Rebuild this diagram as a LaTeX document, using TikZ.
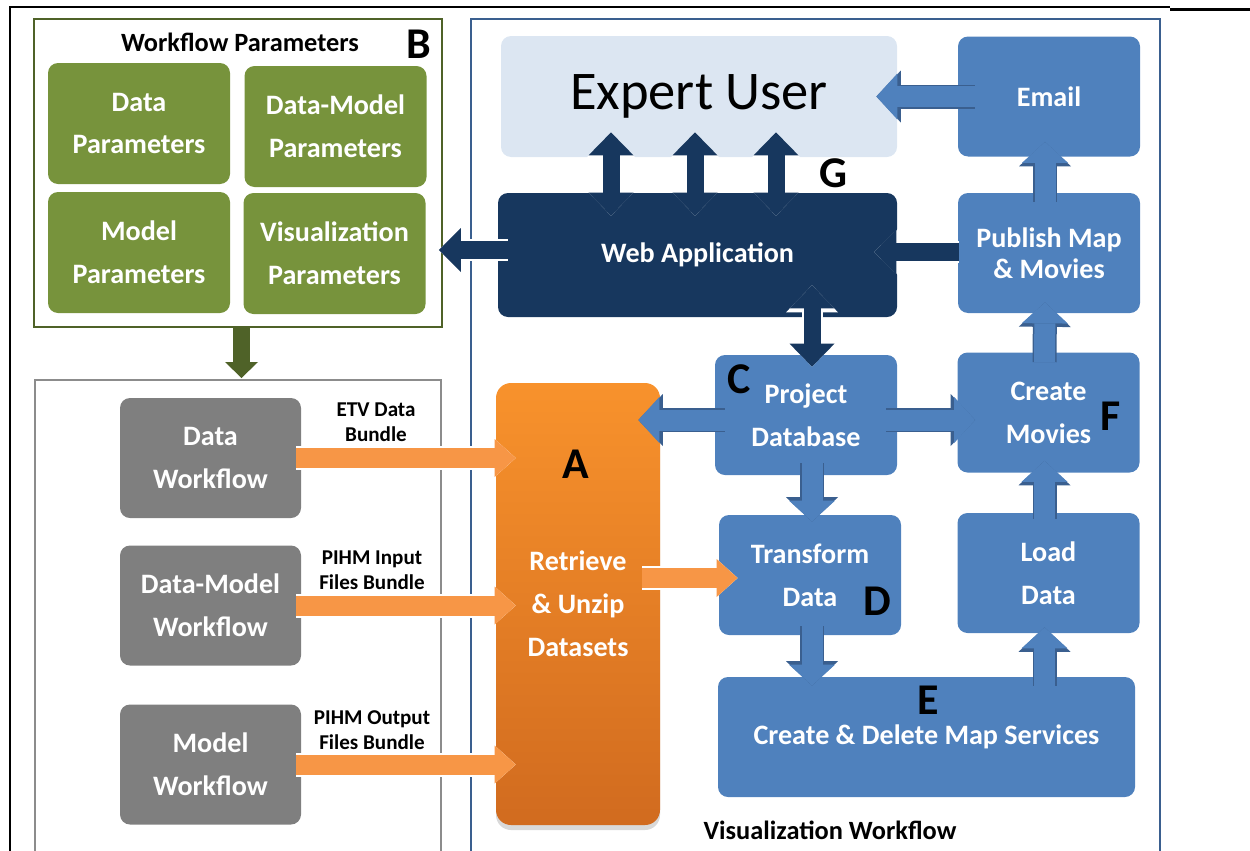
\documentclass[tikz,border=0pt]{standalone}
\usepackage{fontspec}
\setmainfont{Carlito}
\usepackage{tikz}
\usetikzlibrary{arrows.meta, calc, shadows}

\definecolor{parfill}{HTML}{77933C}
\definecolor{parline}{HTML}{4F6228}
\definecolor{wffill}{HTML}{7F7F7F}
\definecolor{vizfill}{HTML}{4F81BD}
\definecolor{vizline}{HTML}{3A5F8F}
\definecolor{webfill}{HTML}{17375E}
\definecolor{userfill}{HTML}{DCE6F2}
\definecolor{bndfill}{HTML}{F79646}
\definecolor{retrtop}{HTML}{F8922C}
\definecolor{retrbot}{HTML}{D16B1F}

\begin{document}
\begin{tikzpicture}[x=1cm, y=-1cm,
    box/.style={rounded corners=0.2cm, text=white, align=center, inner sep=0pt,
      font=\fontsize{16}{24.4}\selectfont\bfseries},
    parbox/.style={box, fill=parfill, minimum width=3.64cm, minimum height=2.42cm},
    wfbox/.style={box, fill=wffill, minimum width=3.62cm, minimum height=2.4cm},
    vizbox/.style={box, fill=vizfill, minimum width=3.64cm, minimum height=2.4cm},
    tag/.style={font=\fontsize{25}{25}\selectfont\bfseries},
    bundle/.style={align=center, font=\fontsize{12}{14.2}\selectfont\bfseries},
    vizarrow/.style={line width=0.42cm, vizfill,
      -{Triangle[length=0.42cm, width=0.92cm, line width=0pt]},
      preaction={draw, line width=0.48cm, vizline,
        -{Triangle[length=0.49cm, width=1.04cm, line width=0pt]}}},
    webarrow/.style={line width=0.36cm, webfill,
      -{Triangle[length=0.44cm, width=0.88cm, line width=0pt]},
      preaction={draw, line width=0.44cm, white,
        -{Triangle[length=0.52cm, width=1.02cm, line width=0pt]}}},
    webdouble/.style={line width=0.34cm, webfill,
      {Triangle[length=0.46cm, width=0.9cm, line width=0pt]}-{Triangle[length=0.46cm, width=0.9cm, line width=0pt]},
      preaction={draw, line width=0.42cm, white,
        {Triangle[length=0.54cm, width=1.04cm, line width=0pt]}-{Triangle[length=0.54cm, width=1.04cm, line width=0pt]}}},
    bndarrow/.style={line width=0.4cm, bndfill,
      -{Triangle[length=0.42cm, width=0.76cm, line width=0pt]},
      preaction={draw, line width=0.48cm, white,
        -{Triangle[length=0.5cm, width=0.9cm, line width=0pt]}}}
  ]
  \useasboundingbox (0,0) rectangle (25,17);
  \draw[line width=1.1pt] (0.2,17.5) -- (0.2,0.14) -- (23.4,0.14);
  \draw[line width=1.7pt] (23.4,0.19) -- (25.2,0.19);

  % workflow parameters
  \node[draw=parline, line width=1.6pt, minimum width=8.16cm, minimum height=6.16cm] (wfpar) at (4.76,3.46) {};
  \node[font=\fontsize{15}{15}\selectfont\bfseries] (wfparT) at (4.8,0.84) {Workflow Parameters};
  \node[parbox] (dpar)  at (2.78,2.47) {Data\\Parameters};
  \node[parbox] (dmpar) at (6.71,2.53) {Data-Model\\Parameters};
  \node[parbox] (mpar)  at (2.78,5.05) {Model\\Parameters};
  \node[parbox] (vpar)  at (6.69,5.07) {Visualization\\Parameters};

  % workflows
  \draw[wffill!90, line width=1.1pt] (0.7,17.5) |- (8.82,7.6) -- (8.82,17.5);
  \node[wfbox] (dwf)  at (4.21,9.16)  {Data\\Workflow};
  \node[wfbox] (dmwf) at (4.21,12.11) {Data-Model\\Workflow};
  \node[wfbox] (mwf)  at (4.21,15.29) {Model\\Workflow};
  \node[bundle] (etv)  at (7.52,8.45)  {ETV Data\\Bundle};
  \node[bundle] (pin)  at (7.44,11.41) {PIHM Input\\Files Bundle};
  \node[bundle] (pout) at (7.44,14.61) {PIHM Output\\Files Bundle};

  % visualization workflow
  \draw[vizline, line width=1.1pt] (9.42,17.5) |- (23.2,0.38) -- (23.2,17.5);
  \node[box, fill=userfill, minimum width=7.92cm, minimum height=2.42cm,
        text=black, font=\fontsize{31}{31}\selectfont] (user) at (13.98,1.93) {Expert User};
  \node[vizbox] (email) at (20.98,1.93) {Email};
  \node[box, fill=webfill, minimum width=7.98cm, minimum height=2.48cm] (web) at (13.95,5.1) {Web Application};
  \node[vizbox, font=\fontsize{16}{17.5}\selectfont\bfseries] (pub) at (20.98,5.06) {Publish Map\\\& Movies};
  \node[vizbox] (movies) at (20.97,8.25)  {Create\\Movies};
  \node[vizbox] (load)   at (20.97,11.46) {Load\\Data};
  \node[vizbox] (proj)   at (16.12,8.3)   {Project\\Database};
  \node[vizbox] (trans)  at (16.2,11.5)   {Transform\\Data};
  \node[box, fill=vizfill, minimum width=8.34cm, minimum height=2.4cm] (maps) at (18.53,14.74) {Create \& Delete Map Services};
  \node[box, rounded corners=0.3cm, top color=retrtop, bottom color=retrbot,
        drop shadow={shadow xshift=0pt, shadow yshift=-0.1cm, opacity=0.3},
        minimum width=3.28cm, minimum height=8.84cm] (retr) at (11.56,12.08) {Retrieve\\\& Unzip\\Datasets};
  \node[font=\fontsize{15}{15}\selectfont\bfseries] (vizT) at (16.6,16.6) {Visualization Workflow};

  % arrows
  \coordinate (wftop) at (4.83,7.56);
  \draw[line width=0.34cm, parline, -{Triangle[length=0.32cm, width=0.66cm, line width=0pt]}] (wfpar.south -| wftop) -- (wftop);
  \foreach \wf in {dwf,dmwf,mwf}
    \draw[bndarrow] ($(\wf.east)+(-0.1,0)$) -- ($(\wf.east -| retr.west)+(0.4,0)$);
  \draw[bndarrow] ($(retr.east |- trans.west)+(-0.36,0.06)$) -- ($(trans.west)+(0.38,0.06)$);

  \draw[vizarrow] ($(email.west)+(0.34,0)$) -- ($(user.east)+(-0.42,0)$);
  \draw[vizarrow] ($(pub.north)+(-0.08,0.18)$) -- ($(email.south)+(-0.08,-0.3)$);
  \draw[vizarrow] ($(movies.north)+(-0.08,0.2)$) -- ($(pub.south)+(-0.08,-0.22)$);
  \draw[vizarrow] ($(load.north)+(-0.08,0.12)$) -- ($(movies.south)+(-0.08,-0.24)$);
  \draw[vizarrow] ($(maps.north -| load)+(-0.08,0.18)$) -- ($(load.south)+(-0.08,-0.12)$);
  \draw[vizarrow] ($(proj.south -| trans)+(0.04,-0.24)$) -- ($(trans.north)+(0.04,0.14)$);
  \draw[vizarrow] ($(trans.south)+(0.04,-0.18)$) -- ($(trans.south |- maps.north)+(0.04,0.18)$);
  \draw[vizarrow] ($(proj.east)+(-0.22,0.1)$) -- ($(movies.west |- proj.east)+(0.36,0.1)$);
  \draw[vizarrow] ($(proj.west)+(0.2,0.1)$) -- ($(retr.east |- proj.west)+(-0.44,0.1)$);

  \draw[webarrow] ($(pub.west)+(0.02,-0.02)$) -- ($(web.east |- pub.west)+(-0.46,-0.02)$);
  \draw[webarrow] ($(web.west)+(0.2,-0.1)$) -- ($(vpar.east |- web.west)+(0.26,-0.1)$);
  \draw[webdouble] ($(web.south -| trans)+(0.04,-0.64)$) -- ($(proj.north -| trans)+(0.04,0.24)$);
  \foreach \dx in {-1.73,-0.05,1.57}
    \draw[webdouble] ($(user.south -| web)+(\dx,-0.5)$) -- ($(web.north)+(\dx,0.46)$);

  % letters
  \node[tag] (tagA) at (11.52,9.28) {A};
  \node[tag] (tagB) at (8.38,0.89) {B};
  \node[tag] (tagC) at (14.78,7.58) {C};
  \node[tag] (tagD) at (17.54,12.02) {D};
  \node[tag] (tagE) at (18.56,14.0) {E};
  \node[tag] (tagF) at (22.22,8.32) {F};
  \node[tag] (tagG) at (16.66,3.46) {G};
\end{tikzpicture}
\end{document}
